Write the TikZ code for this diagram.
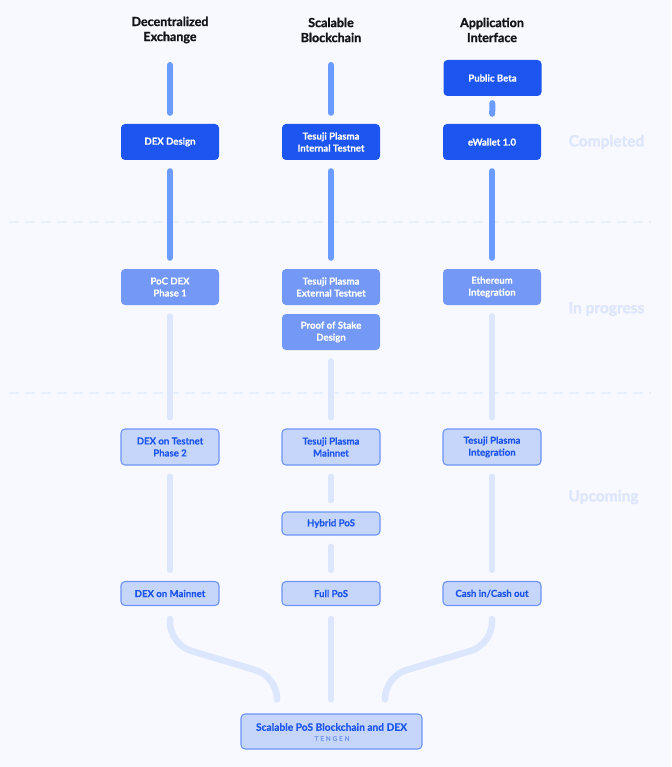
\documentclass[tikz,border=0pt]{standalone}
\usepackage{fontspec}
\setmainfont{Lato}[BoldFeatures={FakeBold=0.5}]
\newfontfamily\spacedfont[LetterSpace=30,BoldFeatures={FakeBold=0.3}]{Lato}
\newfontfamily\heavyfont[BoldFeatures={FakeBold=1.2}]{Lato}
\usetikzlibrary{calc}
\definecolor{bg}{HTML}{F7F9FE}
\definecolor{hdr}{HTML}{141518}
\definecolor{dkbox}{HTML}{1D55F0}
\definecolor{mdbox}{HTML}{7398F6}
\definecolor{ltbox}{HTML}{C6D6FB}
\definecolor{ltborder}{HTML}{6E94F6}
\definecolor{lttext}{HTML}{1D55EA}
\definecolor{cbright}{HTML}{6B9BFF}
\definecolor{clight}{HTML}{DCE6FD}
\definecolor{sidecol}{HTML}{DDE6FC}
\definecolor{dashcol}{HTML}{E8EEFC}
\definecolor{tengen}{HTML}{7A9CF0}
\begin{document}
\begin{tikzpicture}[x=1pt,y=-1pt,
  header/.style={align=center,font=\fontsize{12.5}{15}\selectfont\heavyfont\bfseries,text=hdr,inner sep=0pt},
  box/.style={rounded corners=4pt,minimum width=98pt,minimum height=36pt,align=center,inner sep=0pt,
    font=\fontsize{9.6}{12}\selectfont\bfseries},
  dk/.style={box,fill=dkbox,text=white},
  md/.style={box,fill=mdbox,text=white},
  lt/.style={box,fill=ltbox,draw=ltborder,line width=1.1pt,text=lttext},
  conn/.style={line width=6pt,line cap=round,shorten <=11pt,shorten >=11pt},
  cb/.style={conn,draw=cbright},
  cl/.style={conn,draw=clight},
  curve/.style={line width=6.5pt,line cap=round,draw=clight,rounded corners=22pt},
  side/.style={font=\fontsize{15.5}{17}\selectfont\heavyfont\bfseries,text=sidecol,inner sep=0pt},
  sep/.style={draw=dashcol,line width=1.8pt,dash pattern=on 10pt off 6pt}
]
\useasboundingbox (0,0) rectangle (671,767);
\fill[bg] (0,0) rectangle (671,767);

% separators
\draw[sep] (9,222) -- (651,222);
\draw[sep] (9,393) -- (651,393);

% side labels
\node[side] (sc) at (606.5,142) {Completed};
\node[side] (sp) at (606.5,309) {In progress};
\node[side] (su) at (603.5,497) {Upcoming};

% headers
\node[header] (h1) at (170,30) {Decentralized\\Exchange};
\node[header] (h2) at (331,30) {Scalable\\Blockchain};
\node[header] (h3) at (492,30) {Application\\Interface};
\coordinate (t1) at (170,65);
\coordinate (t2) at (331,65);

% row 1
\node[dk] (pb) at (492.5,78) {Public Beta};
\node[dk] (b1) at (170,142) {DEX Design};
\node[dk] (b2) at (331,142) {Tesuji Plasma\\Internal Testnet};
\node[dk] (b3) at (492,142) {eWallet 1.0};

% row 2
\node[md] (m1) at (170,287) {PoC DEX\\Phase 1};
\node[md] (m2) at (331,287) {Tesuji Plasma\\External Testnet};
\node[md] (m3) at (492,287) {Ethereum\\Integration};
\node[md] (pos) at (331,332) {Proof of Stake\\Design};

% row 3
\node[lt] (l1) at (170,447) {DEX on Testnet\\Phase 2};
\node[lt] (l2) at (331,447) {Tesuji Plasma\\Mainnet};
\node[lt] (l3) at (492,447) {Tesuji Plasma\\Integration};
\node[lt,minimum height=23pt] (hy) at (331,523.5) {Hybrid PoS};

% row 4
\node[lt,minimum height=24pt] (f1) at (170,593.5) {DEX on Mainnet};
\node[lt,minimum height=24pt] (f2) at (331,593.5) {Full PoS};
\node[lt,minimum height=24pt] (f3) at (492,593.5) {Cash in/Cash out};

% final
\node[lt,minimum width=181pt,minimum height=35pt] (fin) at (331.5,731.5) {};
\node[font=\fontsize{10.2}{12}\selectfont\bfseries,text=lttext,inner sep=0pt] (fint) at (331.5,727) {Scalable PoS Blockchain and DEX};
\node[font=\fontsize{6.3}{7}\selectfont\spacedfont\bfseries,text=tengen,inner sep=0pt] (teng) at (332,738.5) {TENGEN};

% connectors: bright
\draw[cb,shorten <=0pt] (t1) -- (b1);
\draw[cb,shorten <=0pt] (t2) -- (b2);
\draw[cb,shorten <=7pt,shorten >=10pt] (pb) -- (b3);
\draw[cb] (b1) -- (m1);
\draw[cb] (b2) -- (m2);
\draw[cb] (b3) -- (m3);

% connectors: light
\draw[cl] (m1) -- (l1);
\draw[cl] (pos) -- (l2);
\draw[cl] (m3) -- (l3);
\draw[cl] (l1) -- (f1);
\draw[cl] (l2) -- (hy);
\draw[cl] (hy) -- (f2);
\draw[cl] (l3) -- (f3);

% bottom merge
\draw[curve] ([yshift=-13pt]f1.south) -- ($(f1.south)+(0,38.5)$) -- ($(fin.north)+(-54.5,-37)$) -- ([xshift=-54.5pt,yshift=14pt]fin.north);
\draw[curve] ([yshift=-13pt]f2.south) -- ([xshift=-0.5pt,yshift=14pt]fin.north);
\draw[curve] ([yshift=-13pt]f3.south) -- ($(f3.south)+(0,38.5)$) -- ($(fin.north)+(53.5,-37)$) -- ([xshift=53.5pt,yshift=14pt]fin.north);
\end{tikzpicture}
\end{document}
